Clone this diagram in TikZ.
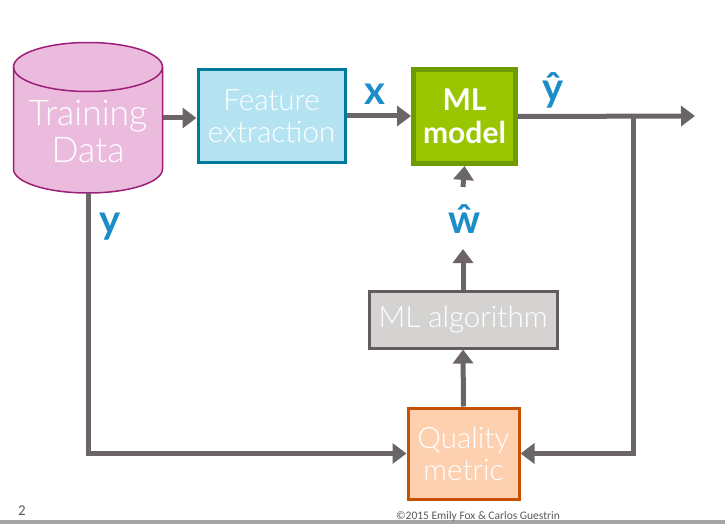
\documentclass[tikz,border=0pt]{standalone}
\usepackage{fontspec}
\setmainfont{Lato}[UprightFont=* Light, BoldFont=* Bold]
\newfontfamily\footfont{Carlito}
\newfontfamily\labfont{Lato}[UprightFont=* Bold]
\usetikzlibrary{arrows.meta}
\definecolor{cylFill}{HTML}{EBBBDD}
\definecolor{cylLine}{HTML}{9E1F78}
\definecolor{feFill}{HTML}{B5E3F2}
\definecolor{feLine}{HTML}{00799F}
\definecolor{mlFill}{HTML}{99C601}
\definecolor{mlLine}{HTML}{6E9B00}
\definecolor{algFill}{HTML}{D4D3D1}
\definecolor{algLine}{HTML}{625C5E}
\definecolor{qmFill}{HTML}{FDD1B0}
\definecolor{qmLine}{HTML}{C75100}
\definecolor{lineGray}{HTML}{6C6567}
\definecolor{labelBlue}{HTML}{1B8DC9}
\definecolor{footGray}{HTML}{595959}
\definecolor{barGray}{HTML}{A5A5A5}
\begin{document}
\begin{tikzpicture}[x=1pt,y=-1pt,
  boxtext/.style={text=white, align=center, inner sep=0pt, font=\fontsize{29.5}{32}\selectfont},
  box/.style={boxtext, line width=3pt},
  conn/.style={draw=lineGray, line width=5pt, line join=miter, -{Triangle[length=14pt,width=20pt]}},
  lab/.style={text=labelBlue, font=\labfont\fontsize{40}{44}\selectfont, inner sep=0pt, anchor=base},
  foot/.style={text=footGray, inner sep=0pt}
]
\useasboundingbox (0,0) rectangle (725,524);
\fill[white] (0,0) rectangle (725,524);
\fill[barGray] (0,520) rectangle (725,524);

% cylinder
\filldraw[fill=cylFill, draw=cylLine, line width=1.5pt]
  (13.5,67) -- (13.5,169) arc[start angle=180, end angle=360, x radius=74.5pt, y radius=24pt]
  -- (162.5,67) arc[start angle=0, end angle=180, x radius=74.5pt, y radius=24.5pt] -- cycle;
\draw[draw=cylLine, line width=1.5pt] (13.5,67) arc[start angle=180, end angle=360, x radius=74.5pt, y radius=24.5pt];
\node[minimum width=149pt, minimum height=150pt, inner sep=0pt] (td) at (88,118) {};
\node[boxtext, font=\fontsize{35.5}{37}\selectfont] (tdt) at (88,131) {Training\\Data};

% boxes
\node[box, fill=feFill, draw=feLine, minimum width=147pt, minimum height=92pt] (fe) at (271.5,116) {Feature\\extraction};
\node[boxtext, font=\bfseries\fontsize{30}{33}\selectfont, fill=mlFill, draw=mlLine, line width=5pt, minimum width=102pt, minimum height=94pt] (ml) at (464.5,116.5) {ML\\model};
\node[box, fill=algFill, draw=algLine, minimum width=188pt, minimum height=57pt] (alg) at (463,319.5) {ML algorithm};
\node[box, fill=qmFill, draw=qmLine, minimum width=111pt, minimum height=91pt] (qm) at (463.5,453.5) {Quality\\metric};

% labels
\node[lab] (xl) at (375,105) {x};
\node[lab] (yhl) at (553,102) {ŷ};
\node[lab] (whl) at (465,233) {ŵ};
\node[lab] (yl) at (110,233) {y};

% coordinates
\coordinate (out) at (695,116);
\coordinate (jn) at (633,116);
\coordinate (wtip) at (463,249);
\coordinate (wbot) at (463,187);

% connectors
\draw[conn] (td.east) -- (td.east -| fe.west);
\draw[conn] (fe.east) -- (fe.east -| ml.west);
\draw[conn] (ml.east) -- (out);
\draw[conn] (jn) |- (qm.east);
\draw[conn] (td.south) |- (qm.west);
\draw[conn] (qm.north) -- (alg.south);
\draw[conn] (alg.north) -- (wtip);
\draw[conn] (wbot) -- (ml.south);

% footer
\node[foot, font=\footfont\fontsize{15}{18}\selectfont, anchor=base] (pg) at (22,515) {2};
\node[foot, font=\footfont\fontsize{11.5}{14}\selectfont, anchor=base] (cp) at (478,519) {©2015 Emily Fox \& Carlos Guestrin};
\end{tikzpicture}
\end{document}
